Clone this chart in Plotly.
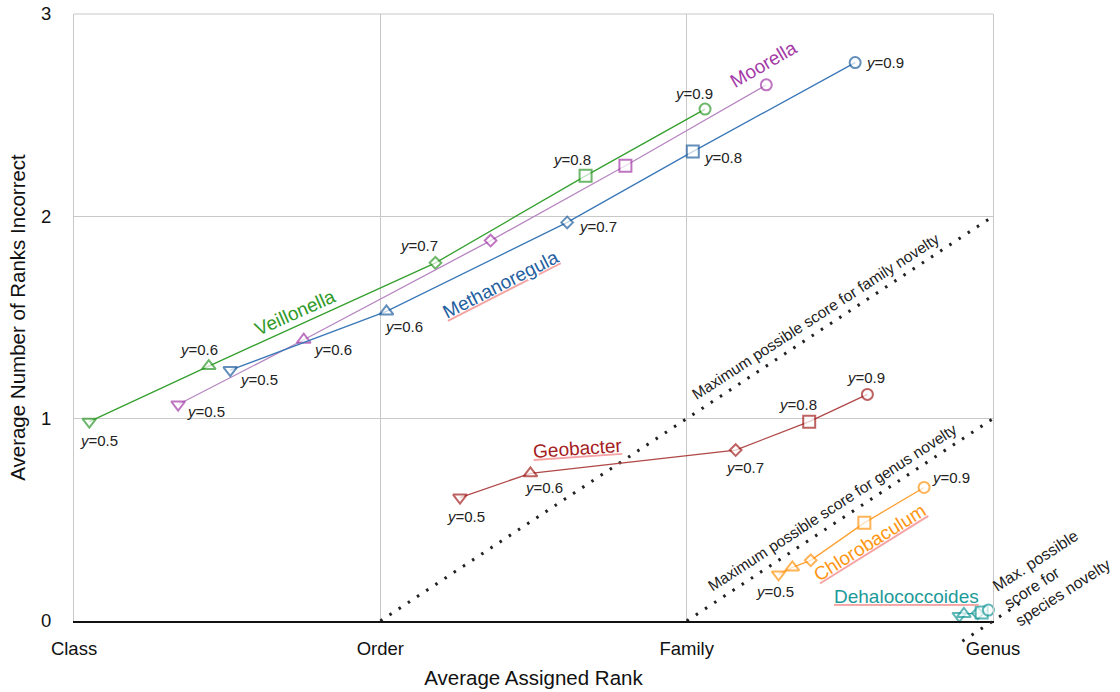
import plotly.graph_objects as go

W, H = 1120, 692
# plot box edges in pixels (left, right, top, bottom)
BOX_L, BOX_R, BOX_T, BOX_B = 74, 993, 14, 621
FONT = "Liberation Sans, Arial, Helvetica, sans-serif"

# axes
rank_positions = [0, 1, 2, 3]
rank_names = ["Class", "Order", "Family", "Genus"]
count_ticks = [0, 1, 2, 3]

# one marker per confidence threshold
thresholds = ["0.5", "0.6", "0.7", "0.8", "0.9"]
point_symbols = ["triangle-down", "triangle-up", "diamond", "square", "circle"]
symbol_sizes = [12, 12, 9, 12, 11]

# average assigned rank (x) and average number of ranks incorrect (y)
veillonella_rank = [0.05, 0.44, 1.18, 1.67, 2.06]
veillonella_wrong = [0.985, 1.26, 1.77, 2.20, 2.53]

moorella_rank = [0.34, 0.75, 1.36, 1.80, 2.26]
moorella_wrong = [1.07, 1.39, 1.88, 2.25, 2.65]

methanoregula_rank = [0.51, 1.02, 1.61, 2.02, 2.55]
methanoregula_wrong = [1.24, 1.53, 1.97, 2.32, 2.76]

geobacter_rank = [1.26, 1.49, 2.16, 2.40, 2.59]
geobacter_wrong = [0.61, 0.73, 0.845, 0.985, 1.12]

chlorobaculum_rank = [2.30, 2.345, 2.405, 2.58, 2.775]
chlorobaculum_wrong = [0.23, 0.265, 0.30, 0.485, 0.66]

dehalococcoides_rank = [2.89, 2.905, 2.95, 2.963, 2.985]
dehalococcoides_wrong = [0.025, 0.035, 0.038, 0.042, 0.054]

# maximum possible score when the query is novel at a given rank: y = x - k
family_limit_x = [1, 3]
family_limit_y = [0, 2]
genus_limit_x = [2, 3]
genus_limit_y = [0, 1]
species_limit_x = [2.9, 3.1]
species_limit_y = [-0.1, 0.1]

series = [
    dict(name="Veillonella", x=veillonella_rank, y=veillonella_wrong,
         line="#35a02f", marker="#2f9a2a",
         label=dict(x=0.722, y=1.527, angle=-24),
         tags=[(0, 10, 19), (1, -10, -17), (2, -16, -17), (3, -14, -16), (4, -11, -16)],
         squiggle=False),
    dict(name="Moorella", x=moorella_rank, y=moorella_wrong,
         line="#b685c0", marker="#a43aa8",
         label=dict(x=2.25, y=2.75, angle=-30),
         tags=[(0, 28, 7), (1, 29, 10)],
         squiggle=False),
    dict(name="Methanoregula", x=methanoregula_rank, y=methanoregula_wrong,
         line="#3a78b8", marker="#23609f",
         label=dict(x=1.392, y=1.665, angle=-27),
         tags=[(0, 29, 9), (1, 18, 15), (2, 31, 4), (3, 30, 6), (4, 30, 0)],
         squiggle=True),
    dict(name="Geobacter", x=geobacter_rank, y=geobacter_wrong,
         line="#b04848", marker="#a42020",
         label=dict(x=1.645, y=0.855, angle=-4),
         tags=[(0, 6, 19), (1, 14, 14), (2, 9, 17), (3, -11, -17), (4, -1, -17)],
         squiggle=True),
    dict(name="Chlorobaculum", x=chlorobaculum_rank, y=chlorobaculum_wrong,
         line="#ffa030", marker="#ff9512",
         label=dict(x=2.598, y=0.386, angle=-32),
         tags=[(0, -4, 17), (4, 27, -10)],
         squiggle=True),
    dict(name="Dehalococcoides", x=dehalococcoides_rank, y=dehalococcoides_wrong,
         line="#24a3a3", marker="#1d9a9a",
         label=dict(x=2.716, y=0.119, angle=0),
         tags=[],
         squiggle=True),
]

fig = go.Figure()
annotations = []

# dotted limit lines
dots = dict(color="#222222", width=3, dash="2.5px,8.5px")
for lx, ly in [(family_limit_x, family_limit_y), (genus_limit_x, genus_limit_y)]:
    fig.add_trace(go.Scatter(x=lx, y=ly, mode="lines", hoverinfo="skip",
                             showlegend=False, line=dots))
fig.add_trace(go.Scatter(x=species_limit_x, y=species_limit_y, mode="lines",
                         hoverinfo="skip", showlegend=False,
                         xaxis="x2", yaxis="y2", line=dots))

for s in series:
    fig.add_trace(go.Scatter(
        x=s["x"], y=s["y"], mode="lines+markers", name=s["name"],
        showlegend=False, cliponaxis=False,
        line=dict(color=s["line"], width=1.3),
        marker=dict(symbol=point_symbols, size=symbol_sizes, color="white",
                    line=dict(color=s["marker"], width=2)),
    ))
    for i, dx, dy in s["tags"]:
        annotations.append(dict(
            x=s["x"][i], y=s["y"][i], xref="x", yref="y",
            text="<i>y</i>=" + thresholds[i], showarrow=False,
            xshift=dx, yshift=-dy,
            font=dict(family=FONT, size=15, color="#222222"),
        ))
    name_text = s["name"]
    if s["squiggle"]:
        # spell-check style underline
        name_text = ('<span style="fill:#f5a3a3;text-decoration:underline dotted">'
                     '<span style="fill:' + s["marker"] + '">' + name_text
                     + "</span></span>")
    annotations.append(dict(
        x=s["label"]["x"], y=s["label"]["y"], xref="x", yref="y",
        text=name_text, showarrow=False, textangle=s["label"]["angle"],
        font=dict(family=FONT, size=19, color=s["marker"]),
    ))

# labels of the limit lines
annotations += [
    dict(x=2.42, y=1.505, xref="x", yref="y", showarrow=False, textangle=-33,
         text="Maximum possible score for family novelty",
         font=dict(family=FONT, size=15.5, color="#222222")),
    dict(x=2.475, y=0.56, xref="x", yref="y", showarrow=False, textangle=-33,
         text="Maximum possible score for genus novelty",
         font=dict(family=FONT, size=15.5, color="#222222")),
    dict(x=3.19, y=0.225, xref="x2", yref="y2", showarrow=False, textangle=-33,
         text="Max. possible<br>score for<br>species novelty", align="left",
         font=dict(family=FONT, size=16, color="#222222")),
]

ux = (BOX_R - BOX_L) / 3.0
uy = (BOX_B - BOX_T) / 3.0
grid = "#c8c8c8"

fig.update_layout(
    template="none",
    width=W, height=H,
    margin=dict(l=0, r=0, t=0, b=0, pad=0),
    paper_bgcolor="white", plot_bgcolor="rgba(0,0,0,0)",
    font=dict(family=FONT, color="#111111"),
    xaxis=dict(
        domain=[BOX_L / W, BOX_R / W], range=[0, 3], anchor="y", automargin=False,
        tickvals=rank_positions, ticktext=rank_names,
        tickfont=dict(size=18.5, color="#111111"), ticks="", ticklabelstandoff=10,
        showgrid=True, gridcolor=grid, gridwidth=1, zeroline=False,
        showline=True, linecolor="#111111", linewidth=1.8,
        title=dict(text="Average Assigned Rank", font=dict(size=20.5, color="#111111"),
                   standoff=13),
    ),
    yaxis=dict(
        domain=[1 - BOX_B / H, 1 - BOX_T / H], range=[0, 3], anchor="x",
        automargin=False,
        tickvals=count_ticks, tickfont=dict(size=18.5, color="#111111"),
        ticks="", ticklabelstandoff=18,
        showgrid=True, gridcolor=grid, gridwidth=1, zeroline=False,
        showline=True, linecolor=grid, linewidth=1, mirror=True,
        title=dict(text="Average Number of Ranks Incorrect",
                   font=dict(size=20.5, color="#111111"), standoff=9),
    ),
    xaxis2=dict(domain=[0, 1], range=[-BOX_L / ux, (W - BOX_L) / ux],
                anchor="y2", visible=False, automargin=False),
    yaxis2=dict(domain=[0, 1], range=[-(H - BOX_B) / uy, BOX_B / uy],
                anchor="x2", visible=False, automargin=False),
    shapes=[dict(type="line", xref="x domain", yref="y domain",
                 x0=0, x1=1, y0=1, y1=1, line=dict(color=grid, width=1))],
    annotations=annotations,
)

fig.write_html("out.html")
